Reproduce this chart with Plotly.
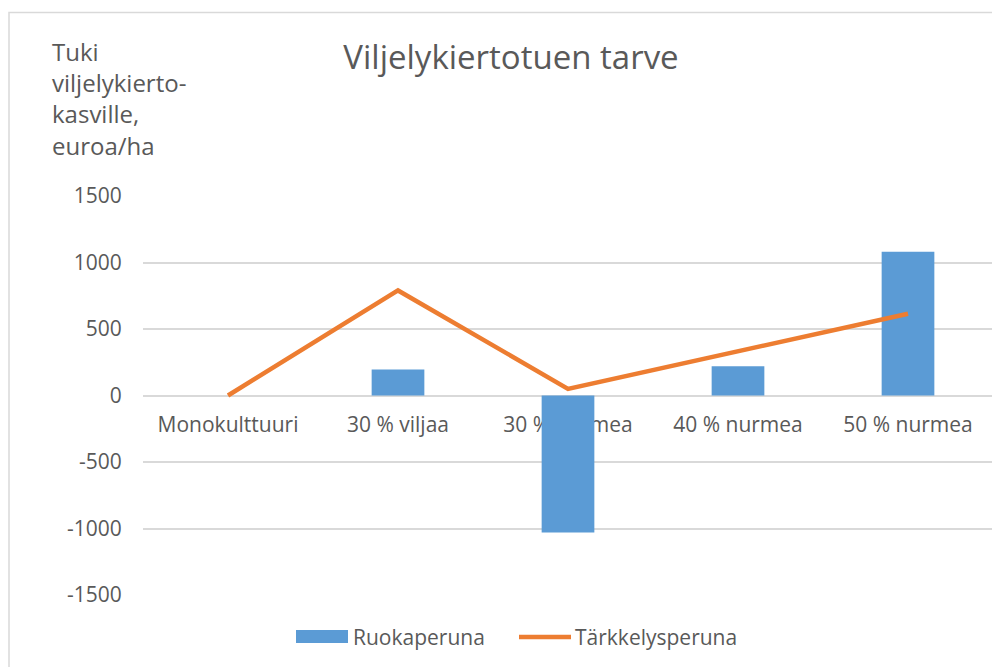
import plotly.graph_objects as go

categories = ["Monokulttuuri", "30 % viljaa", "30 % nurmea", "40 % nurmea", "50 % nurmea"]
ruokaperuna = [0, 195, -1030, 220, 1080]
tarkkelysperuna = [0, 790, 50, 330, 615]
y_ticks = [-1500, -1000, -500, 0, 500, 1000, 1500]
y_ticktext = ["-1500", "-1000", "-500", "0", "500", "1000", "1500"]

FONT = "Open Sans"
TXT = "#595959"
GRID = "#d9d9d9"
BLUE = "#5B9BD5"
ORANGE = "#ED7D31"

fig = go.Figure()
fig.add_trace(go.Bar(x=categories, y=ruokaperuna, name="Ruokaperuna",
                     marker=dict(color=BLUE, line=dict(width=0)), width=0.31))
fig.add_trace(go.Scatter(x=categories, y=tarkkelysperuna, name="Tärkkelysperuna",
                         mode="lines", line=dict(color=ORANGE, width=4.5)))

# page body has an 8px margin: work in figure coordinates = screen - 8
OFF = 8
W, H = 1000 - OFF, 667 - OFF
L, R, T, B = 143 - OFF, 7, 196 - OFF, 667 - 595
pw, ph = W - L - R, H - T - B


def px(x):
    return (x - OFF - L) / pw


def py(y):
    return (H - B - (y - OFF)) / ph


fig.update_layout(
    width=W, height=H,
    margin=dict(l=L, r=R, t=T, b=B),
    paper_bgcolor="white", plot_bgcolor="white",
    showlegend=False,
    font=dict(family=FONT, color=TXT, size=21),
    title=dict(text="Viljelykiertotuen tarve", x=(511 - OFF) / W, xanchor="center",
               y=1 - (57 - OFF) / H, yanchor="middle",
               font=dict(family=FONT, size=33, color=TXT)),
    xaxis=dict(type="category", range=[-0.5, 4.5], showgrid=False, zeroline=False,
               showline=False, anchor="free", position=0.5, layer="below traces",
               ticks="outside", ticklen=10, tickcolor="rgba(0,0,0,0)",
               tickfont=dict(family=FONT, size=21, color=TXT)),
    yaxis=dict(range=[-1500, 1500], tickvals=y_ticks, ticktext=y_ticktext,
               showgrid=True, gridcolor=GRID,
               gridwidth=1.6, zeroline=True, zerolinecolor=GRID, zerolinewidth=1.6,
               showline=False, ticks="outside", ticklen=16, tickcolor="rgba(0,0,0,0)",
               tickfont=dict(family=FONT, size=21, color=TXT)),
)

# chart border
fig.add_shape(type="rect", xref="paper", yref="paper",
              x0=px(9), x1=px(1020), y0=py(690), y1=py(12.5),
              line=dict(color=GRID, width=1.5), layer="below")

# y-axis title
fig.add_annotation(text="Tuki<br>viljelykierto-<br>kasville,<br>euroa/ha",
                   xref="paper", yref="paper", x=px(50), y=py(33),
                   xanchor="left", yanchor="top", align="left", showarrow=False,
                   font=dict(family=FONT, size=24, color=TXT))

# legend (manual)
fig.add_shape(type="rect", xref="paper", yref="paper",
              x0=px(296), x1=px(348), y0=py(643), y1=py(630),
              fillcolor=BLUE, line=dict(width=0))
fig.add_annotation(text="Ruokaperuna", xref="paper", yref="paper", x=px(351), y=py(636.5),
                   xanchor="left", yanchor="middle", showarrow=False,
                   font=dict(family=FONT, size=21, color=TXT))
fig.add_shape(type="line", xref="paper", yref="paper",
              x0=px(519), x1=px(571), y0=py(637), y1=py(637),
              line=dict(color=ORANGE, width=4.5))
fig.add_annotation(text="Tärkkelysperuna", xref="paper", yref="paper", x=px(573), y=py(636.5),
                   xanchor="left", yanchor="middle", showarrow=False,
                   font=dict(family=FONT, size=21, color=TXT))

fig.write_html("out.html")
